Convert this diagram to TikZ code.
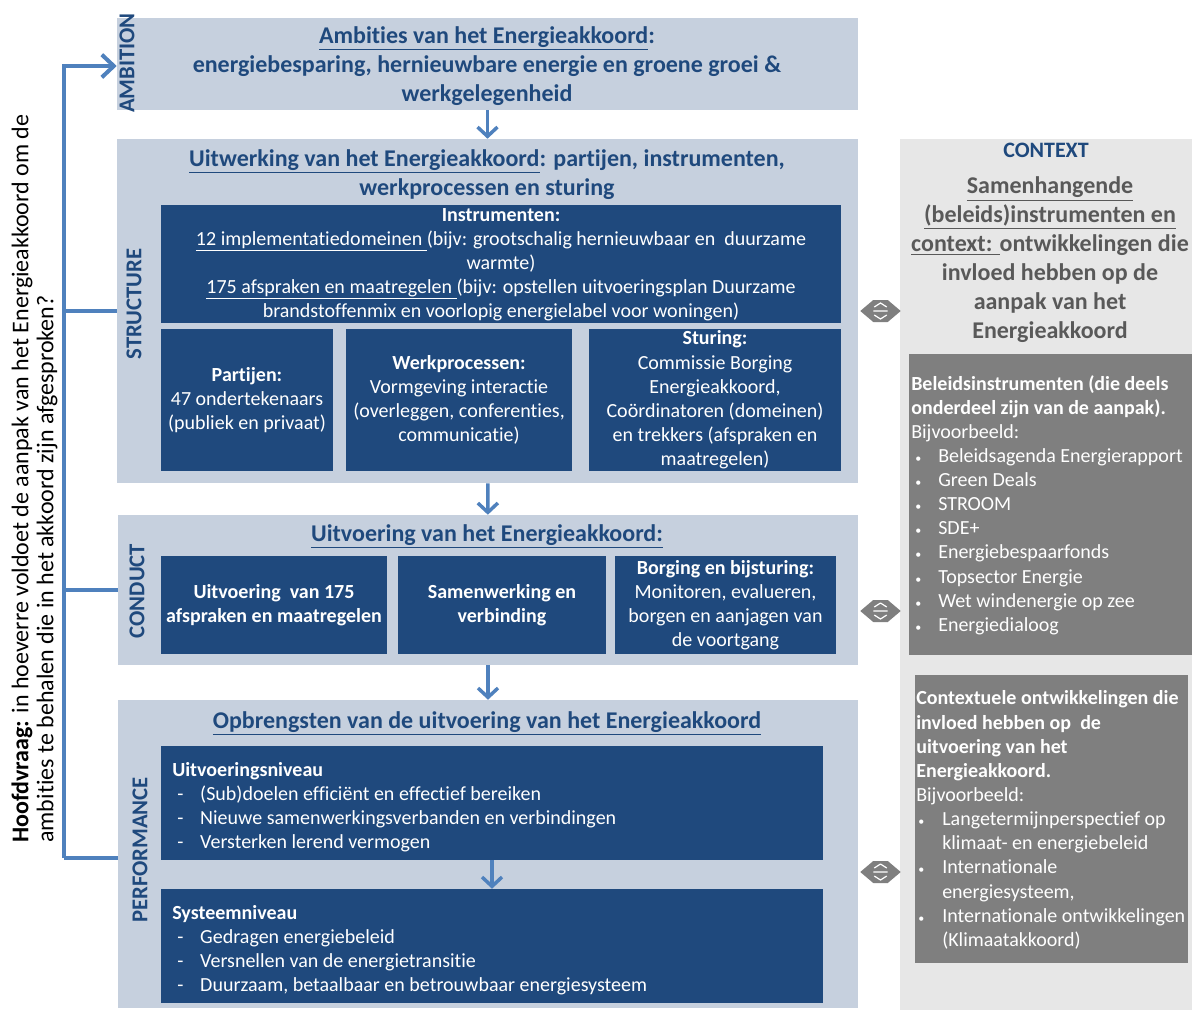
\documentclass[tikz,border=0pt]{standalone}
\usepackage{fontspec}
\setmainfont{Carlito}[Ligatures={TeX,NoCommon}]
\usetikzlibrary{arrows.meta,fit,calc,positioning}

\definecolor{panelblue}{RGB}{198,208,222}
\definecolor{boxblue}{RGB}{31,73,125}
\definecolor{lineblue}{RGB}{79,129,189}
\definecolor{ctxbg}{RGB}{231,231,231}
\definecolor{ctxbox}{RGB}{127,127,127}
\definecolor{ctxtext}{RGB}{89,89,89}

\newcommand{\uln}[1]{\underline{#1}}
\newcommand{\titlesize}{\fontsize{18}{21.75}\selectfont\bfseries}
\newcommand{\bodysize}{\fontsize{15}{18.1}\selectfont}
\newcommand{\dashitem}{\makebox[21pt][l]{\hspace*{3.75pt}-}}
\newcommand{\bulitemA}{\makebox[20.25pt][l]{\hspace*{3pt}{\small•}}}
\newcommand{\bulitemB}{\makebox[19.5pt][l]{\hspace*{1.5pt}{\small•}}}

\tikzset{
  panel/.style={fill=panelblue, inner sep=0pt},
  darkbox/.style={fill=boxblue, inner sep=0pt},
  greybox/.style={fill=ctxbox, inner sep=0pt},
  titletext/.style={align=center, inner sep=0pt, text=boxblue, font=\titlesize},
  boxtext/.style={align=center, inner sep=0pt, text=white, font=\bodysize},
  listtext/.style={align=left, anchor=west, inner sep=0pt, text=white, font=\bodysize},
  sidelabel/.style={rotate=90, inner sep=0pt, text=boxblue,
    font=\fontsize{17}{18}\selectfont\bfseries},
  bracket/.style={draw=lineblue, line width=3pt},
  downarrow/.style={draw=lineblue, line width=2.6pt,
    -{Straight Barb[length=7pt,width=15pt,line width=2.6pt]}},
}

% grey double arrow between the panels and the context column
\newcommand{\ctxlink}[2]{%
  \fill[ctxbox] (#1) -- ($(#1)+(13,-11)$) -- ($(#2)+(-13,-11)$) -- (#2)
    -- ($(#2)+(-13,11)$) -- ($(#1)+(13,11)$) -- cycle;
  \draw[white, line width=0.9pt, line join=round]
    ($(#1)+(14,-4)$) -- ($(#1)!0.5!(#2)+(0,-8)$) -- ($(#2)+(-14,-4)$)
    ($(#1)+(13,0)$) -- ($(#2)+(-13,0)$)
    ($(#1)+(14,4)$) -- ($(#1)!0.5!(#2)+(0,8)$) -- ($(#2)+(-14,4)$);
}

\begin{document}
\begin{tikzpicture}[x=0.75pt, y=-0.75pt]
\useasboundingbox (0,0) rectangle (1192,1010);
\fill[white] (0,0) rectangle (1192,1010);

% panels
\node[panel, fit={(117,18) (858,110)}] (ambition) {};
\node[panel, fit={(117,139) (858,483)}] (structure) {};
\node[panel, fit={(118,515) (858,665)}] (conduct) {};
\node[panel, fit={(118,700) (858,1008)}] (performance) {};
\node[fill=ctxbg, inner sep=0pt, fit={(900,139) (1192,1010)}] (context) {};

% side labels
\node[sidelabel] at (127,63) {AMBITION};
\node[sidelabel] at (134,304) {STRUCTURE};
\node[sidelabel] at (137,591) {CONDUCT};
\node[sidelabel] at (140,850) {PERFORMANCE};

% ambition
\node[titletext] (ambtitle) at (487,66)
  {\uln{Ambities van het Energieakkoord}:\\
   energiebesparing, hernieuwbare energie en groene groei \&\\
   werkgelegenheid};

% structure
\node[titletext] (strtitle) at (487,174.5)
  {\uln{Uitwerking van het Energieakkoord}: partijen, instrumenten,\\
   werkprocessen en sturing};
\node[darkbox, fit={(161,205) (841,323)}] (instr) {};
\node[boxtext] at (501,264.5)
  {\textbf{Instrumenten:}\\
   \uln{12 implementatiedomeinen }(bijv: grootschalig hernieuwbaar en \ duurzame\\
   warmte)\\
   \uln{175 afspraken en maatregelen }(bijv: opstellen uitvoeringsplan Duurzame\\
   brandstoffenmix en voorlopig energielabel voor woningen)};
\node[darkbox, fit={(161,329) (333,471)}] (partijen) {};
\node[boxtext] at (partijen)
  {\textbf{Partijen:}\\47 ondertekenaars\\(publiek en privaat)};
\node[darkbox, fit={(346,329) (572,471)}] (werkproc) {};
\node[boxtext] at (werkproc)
  {\textbf{Werkprocessen:}\\Vormgeving interactie\\(overleggen, conferenties,\\communicatie)};
\node[darkbox, fit={(589,329) (841,471)}] (sturing) {};
\node[boxtext] at (sturing)
  {\textbf{Sturing:}\\Commissie Borging\\Energieakkoord,\\Coördinatoren (domeinen)\\en trekkers (afspraken en\\maatregelen)};

% conduct
\node[titletext] (contitle) at (487,536) {\uln{Uitvoering van het Energieakkoord:}};
\node[darkbox, fit={(161,556) (387,654)}] (uitvoering) {};
\node[boxtext, font=\bodysize\bfseries] at (uitvoering)
  {Uitvoering \ van 175\\afspraken en maatregelen};
\node[darkbox, fit={(398,556) (606,654)}] (samenwerking) {};
\node[boxtext, font=\bodysize\bfseries] at (samenwerking)
  {Samenwerking en\\verbinding};
\node[darkbox, fit={(615,556) (836,654)}] (borging) {};
\node[boxtext] at (borging)
  {\textbf{Borging en bijsturing:}\\Monitoren, evalueren,\\borgen en aanjagen van\\de voortgang};

% performance
\node[titletext] (pertitle) at (487,723) {\uln{Opbrengsten van de uitvoering van het Energieakkoord}};
\node[darkbox, fit={(161,746) (823,860)}] (uitvniveau) {};
\node[listtext] at (172,807)
  {\textbf{Uitvoeringsniveau}\\
   \dashitem(Sub)doelen efficiënt en effectief bereiken\\
   \dashitem Nieuwe samenwerkingsverbanden en verbindingen\\
   \dashitem Versterken lerend vermogen};
\node[darkbox, fit={(161,889) (823,1003)}] (sysniveau) {};
\node[listtext] at (172,950)
  {\textbf{Systeemniveau}\\
   \dashitem Gedragen energiebeleid\\
   \dashitem Versnellen van de energietransitie\\
   \dashitem Duurzaam, betaalbaar en betrouwbaar energiesysteem};

% context column
\node[inner sep=0pt, text=boxblue, font=\fontsize{16.5}{18}\selectfont\bfseries] at (1046,150) {CONTEXT};
\node[align=center, inner sep=0pt, text=ctxtext, font=\titlesize] at (1050,260)
  {\uln{Samenhangende}\\
   \uln{(beleids)instrumenten en}\\
   \uln{context: }ontwikkelingen die\\
   invloed hebben op de\\
   aanpak van het\\
   Energieakkoord};
\node[greybox, fit={(909,354) (1192,655)}] (beleid) {};
\node[listtext] at (911,505)
  {\textbf{Beleidsinstrumenten (die deels}\\
   \textbf{onderdeel zijn van de aanpak).}\\
   Bijvoorbeeld:\\
   \bulitemA Beleidsagenda Energierapport\\
   \bulitemA Green Deals\\
   \bulitemA STROOM\\
   \bulitemA SDE+\\
   \bulitemA Energiebespaarfonds\\
   \bulitemA Topsector Energie\\
   \bulitemA Wet windenergie op zee\\
   \bulitemA Energiedialoog};
\node[greybox, fit={(915,675) (1188,963)}] (ontwikkel) {};
\node[listtext] at (916,820)
  {\textbf{Contextuele ontwikkelingen die}\\
   \textbf{invloed hebben op \ de}\\
   \textbf{uitvoering van het}\\
   \textbf{Energieakkoord.}\\
   Bijvoorbeeld:\\
   \bulitemB Langetermijnperspectief op\\
   \hspace*{19.5pt}klimaat- en energiebeleid\\
   \bulitemB Internationale\\
   \hspace*{19.5pt}energiesysteem,\\
   \bulitemB Internationale ontwikkelingen\\
   \hspace*{19.5pt}(Klimaatakkoord)};

% flow arrows
\draw[downarrow] (ambition) -- (structure);
\draw[downarrow] (structure) -- (conduct);
\draw[downarrow] (conduct) -- (performance);
\draw[downarrow] (uitvniveau.south -| 492,0) -- (sysniveau.north -| 492,0);

% main question with its bracket
\coordinate (qtop) at (64,66);
\coordinate (qbot) at (64,858);
\draw[bracket, -{Straight Barb[length=9pt,width=17pt,line width=3pt]}]
  (qbot) -- (qtop) -- (qtop -| ambition.west);
\draw[bracket] (qtop |- structure.west) -- (structure.west);
\draw[bracket] (qtop |- conduct.west) -- (conduct.west);
\draw[bracket] (qbot) -- (qbot -| performance.west);
\node[rotate=90, anchor=west, align=left, inner sep=0pt,
  font=\fontsize{18}{18.75}\selectfont] at (34.5,843)
  {\textbf{Hoofdvraag:} in hoeverre voldoet de aanpak van het Energieakkoord om de\\
   ambities te behalen die in het akkoord zijn afgesproken?};

% links to the context column
\ctxlink{$(structure.east)+(2,0)$}{$(structure.east -| context.west)+(1,0)$}
\ctxlink{$(conduct.east)+(2,21)$}{$(conduct.east -| context.west)+(1,21)$}
\ctxlink{$(performance.east)+(2,18)$}{$(performance.east -| context.west)+(1,18)$}
\end{tikzpicture}
\end{document}
